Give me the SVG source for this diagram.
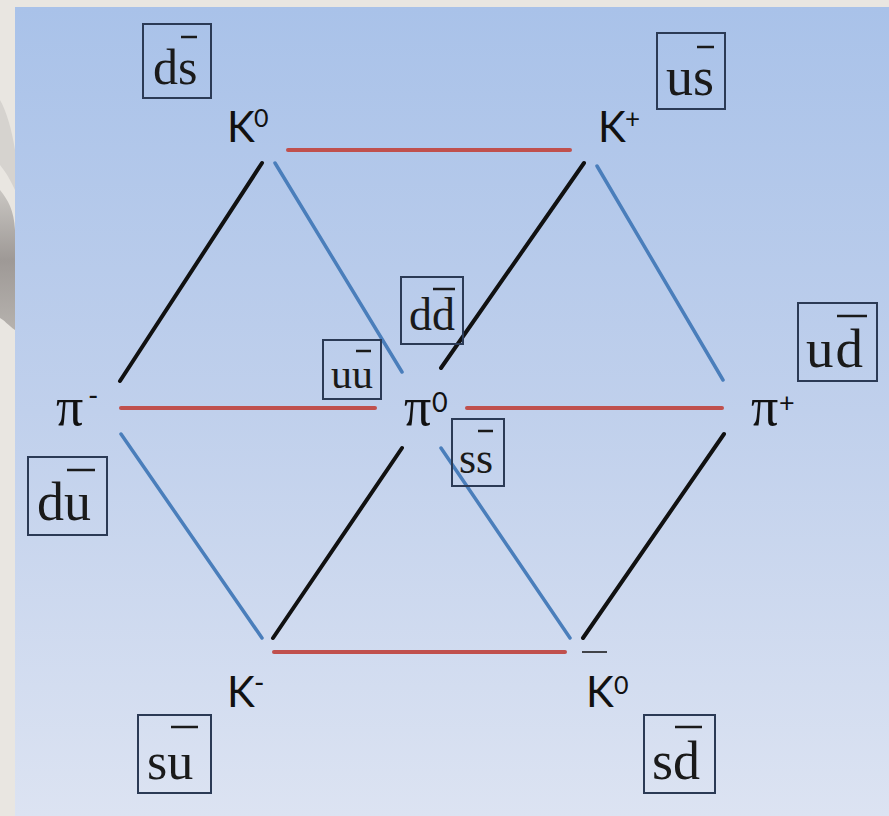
<svg xmlns="http://www.w3.org/2000/svg" width="889" height="816" viewBox="0 0 889 816">
<defs>
<linearGradient id="bg" x1="0" y1="0" x2="0" y2="1">
<stop offset="0" stop-color="#a9c2e9"/>
<stop offset="0.5" stop-color="#c0d0ec"/>
<stop offset="1" stop-color="#dce3f2"/>
</linearGradient>
<linearGradient id="sw" x1="0" y1="0" x2="0" y2="1">
<stop offset="0" stop-color="#c9c6c2"/>
<stop offset="0.5" stop-color="#9e9996"/>
<stop offset="1" stop-color="#b6b2ae"/>
</linearGradient>
</defs>
<style>
.red{stroke:#c0504d;stroke-width:4;stroke-linecap:round}
.blue{stroke:#4a7ebb;stroke-width:3.5;stroke-linecap:round}
.black{stroke:#111;stroke-width:4;stroke-linecap:round}
.box{fill:none;stroke:#2b3a55;stroke-width:2}
.q{font-family:"Liberation Serif","Times New Roman",serif;fill:#1a1a1a}
.bar{stroke:#1a1a1a;stroke-width:2.5}
.p{font-family:"Lato","Open Sans",sans-serif;fill:#111}
.pi{font-family:"Liberation Serif","DejaVu Serif",serif;fill:#111}
</style>
<rect x="0" y="0" width="889" height="816" fill="#e9e6e1"/>
<path d="M0,190 C8,200 14,210 15,230 L15,330 C8,325 4,320 0,318 Z" fill="url(#sw)"/>
<path d="M0,100 C6,110 12,130 15,150 L15,190 C8,175 4,170 0,165 Z" fill="#d6d3cf"/>
<rect x="15" y="7" width="874" height="809" fill="url(#bg)"/>

<g id="connectors">
<line class="red" x1="288" y1="150" x2="570" y2="150"/>
<line class="black" x1="262" y1="163" x2="120" y2="381"/>
<line class="blue" x1="275" y1="163" x2="402" y2="372"/>
<line class="black" x1="584" y1="163" x2="441" y2="368"/>
<line class="blue" x1="597" y1="166" x2="723" y2="380"/>
<line class="red" x1="121" y1="408" x2="375" y2="408"/>
<line class="red" x1="467" y1="408" x2="722" y2="408"/>
<line class="blue" x1="121" y1="434" x2="262" y2="638"/>
<line class="black" x1="402" y1="448" x2="273" y2="638"/>
<line class="blue" x1="441" y1="448" x2="570" y2="638"/>
<line class="black" x1="724" y1="434" x2="583" y2="638"/>
<line class="red" x1="274" y1="652" x2="565" y2="652"/>
</g>

<g id="K0">
<text class="p" x="227" y="142" font-size="42">K</text>
<text class="p" x="254" y="127" font-size="25">0</text>
</g>
<g id="Kplus">
<text class="p" x="598" y="142" font-size="42">K</text>
<text class="p" x="625" y="128" font-size="26">+</text>
</g>
<g id="piminus">
<text class="pi" x="56" y="425" font-size="54">π</text>
<text class="p" x="88" y="406" font-size="28">-</text>
</g>
<g id="pi0">
<text class="pi" x="404" y="425" font-size="54">π</text>
<text class="p" x="432" y="412" font-size="27">0</text>
</g>
<g id="piplus">
<text class="pi" x="751" y="425" font-size="54">π</text>
<text class="p" x="779" y="412" font-size="27">+</text>
</g>
<g id="Kminus">
<text class="p" x="227" y="707" font-size="42">K</text>
<text class="p" x="254" y="693" font-size="28">-</text>
</g>
<g id="K0bar">
<line x1="582" y1="652" x2="607" y2="652" stroke="#111" stroke-width="1.5"/>
<text class="p" x="586" y="707" font-size="42">K</text>
<text class="p" x="614" y="694" font-size="25">0</text>
</g>

<g id="ds">
<rect class="box" x="143" y="24" width="68" height="74"/>
<text class="q" x="153" y="84" font-size="50">ds</text>
<line class="bar" x1="181" y1="37" x2="197" y2="37"/>
</g>
<g id="us">
<rect class="box" x="657" y="33" width="68" height="76"/>
<text class="q" x="666" y="95" font-size="54">us</text>
<line class="bar" x1="697" y1="47" x2="714" y2="47"/>
</g>
<g id="dd">
<rect class="box" x="401" y="277" width="62" height="67"/>
<text class="q" x="409" y="330" font-size="46">dd</text>
<line class="bar" x1="433" y1="289" x2="455" y2="289"/>
</g>
<g id="uu">
<rect class="box" x="323" y="340" width="58" height="59"/>
<text class="q" x="331" y="388" font-size="42">uu</text>
<line class="bar" x1="356" y1="351" x2="371" y2="351"/>
</g>
<g id="ss">
<rect class="box" x="452" y="419" width="52" height="67"/>
<text class="q" x="459" y="473" font-size="44">ss</text>
<line class="bar" x1="478" y1="431" x2="493" y2="431"/>
</g>
<g id="ud">
<rect class="box" x="798" y="303" width="79" height="78"/>
<text class="q" x="806" y="367" font-size="55" letter-spacing="2">ud</text>
<line class="bar" x1="837" y1="316" x2="867" y2="316"/>
</g>
<g id="du">
<rect class="box" x="28" y="457" width="79" height="78"/>
<text class="q" x="37" y="520" font-size="54">du</text>
<line class="bar" x1="67" y1="470" x2="95" y2="470"/>
</g>
<g id="su">
<rect class="box" x="138" y="715" width="73" height="78"/>
<text class="q" x="147" y="779" font-size="52">su</text>
<line class="bar" x1="171" y1="727" x2="198" y2="727"/>
</g>
<g id="sd">
<rect class="box" x="644" y="715" width="71" height="78"/>
<text class="q" x="652" y="779" font-size="54">sd</text>
<line class="bar" x1="675" y1="727" x2="702" y2="727"/>
</g>
</svg>
